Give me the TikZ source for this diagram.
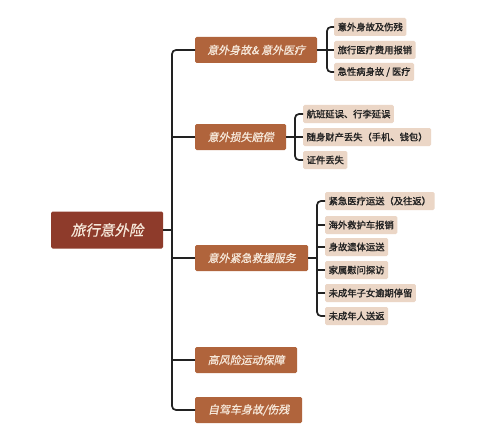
\documentclass[tikz,border=0pt]{standalone}
\usepackage{fontspec}
\setmainfont{Noto Sans CJK SC}
\newfontfamily\cjkit[FakeSlant=0.2,FakeBold=0.8]{Noto Sans CJK SC}
\newfontfamily\cjkb[FakeBold=1.6]{Noto Sans CJK SC}
\definecolor{rootred}{HTML}{8E3B2B}
\definecolor{midbrown}{HTML}{B0643C}
\definecolor{leafbeige}{HTML}{EBD6C6}
\definecolor{linecol}{HTML}{222222}
\definecolor{creamtxt}{HTML}{F6E8DA}
\tikzset{
  rootbox/.style={fill=rootred, rounded corners=1.5pt, text=creamtxt, font=\cjkit\fontsize{14.5}{16}\selectfont, minimum height=37pt, minimum width=112pt, anchor=west, inner sep=0pt},
  midbox/.style={fill=midbrown, rounded corners=1.5pt, text=creamtxt, font=\cjkit\fontsize{11}{13}\selectfont, minimum height=26pt, anchor=west, inner sep=0pt},
  leafbox/.style={fill=leafbeige, rounded corners=1.5pt, text=linecol, font=\cjkb\fontsize{9.3}{11}\selectfont, minimum height=18pt, anchor=west, inner xsep=3.5pt, inner ysep=0pt},
  conn/.style={draw=linecol, line width=1.7pt},
  brk/.style={draw=linecol, line width=1.7pt, rounded corners=4pt}
}
\begin{document}
\begin{tikzpicture}[x=1pt,y=-1pt]
\useasboundingbox[fill=white] (0,0) rectangle (500,433);
% root
\node[rootbox] (root) at (51,230) {旅行意外险};
% level 1
\node[midbox, minimum width=122pt] (b1) at (195,50) {意外身故\&\ 意外医疗};
\node[midbox, minimum width=91pt] (b2) at (195,137) {意外损失赔偿};
\node[midbox, minimum width=113pt] (b3) at (195,258) {意外紧急救援服务};
\node[midbox, minimum width=102pt] (b4) at (195,360) {高风险运动保障};
\node[midbox, minimum width=107pt] (b5) at (195,410) {自驾车身故/伤残};
% leaves group 1
\node[leafbox] (l11) at (334,27) {意外身故及伤残};
\node[leafbox] (l12) at (334,50) {旅行医疗费用报销};
\node[leafbox] (l13) at (334,72) {急性病身故 / 医疗};
% leaves group 2
\node[leafbox] (l21) at (303,114) {航班延误、行李延误};
\node[leafbox] (l22) at (303,137) {随身财产丢失（手机、钱包）};
\node[leafbox] (l23) at (303,160) {证件丢失};
% leaves group 3
\node[leafbox] (l31) at (325,201) {紧急医疗运送（及往返）};
\node[leafbox] (l32) at (325,225) {海外救护车报销};
\node[leafbox] (l33) at (325,247) {身故遗体运送};
\node[leafbox] (l34) at (325,270) {家属慰问探访};
\node[leafbox] (l35) at (325,293) {未成年子女逾期停留};
\node[leafbox] (l36) at (325,316) {未成年人送返};
% trunk
\coordinate (tk) at (172,230);
\draw[brk] (b1.west) -| (tk) |- (b5.west);
\draw[conn] (root.east) -- (tk);
\draw[conn] (b2.west) -- (b2.west -| tk);
\draw[conn] (b3.west) -- (b3.west -| tk);
\draw[conn] (b4.west) -- (b4.west -| tk);
% bracket 1
\coordinate (k1) at (327,50);
\draw[brk] (l11.west) -| (k1) |- (l13.west);
\draw[conn] (b1.east) -- (k1) -- (l12.west);
% bracket 2
\coordinate (k2) at (295,137);
\draw[brk] (l21.west) -| (k2) |- (l23.west);
\draw[conn] (b2.east) -- (k2) -- (l22.west);
% bracket 3
\coordinate (k3) at (317,258);
\draw[brk] (l31.west) -| (k3) |- (l36.west);
\draw[conn] (b3.east) -- (k3);
\draw[conn] (l32.west) -- (l32.west -| k3);
\draw[conn] (l33.west) -- (l33.west -| k3);
\draw[conn] (l34.west) -- (l34.west -| k3);
\draw[conn] (l35.west) -- (l35.west -| k3);
\end{tikzpicture}
\end{document}
